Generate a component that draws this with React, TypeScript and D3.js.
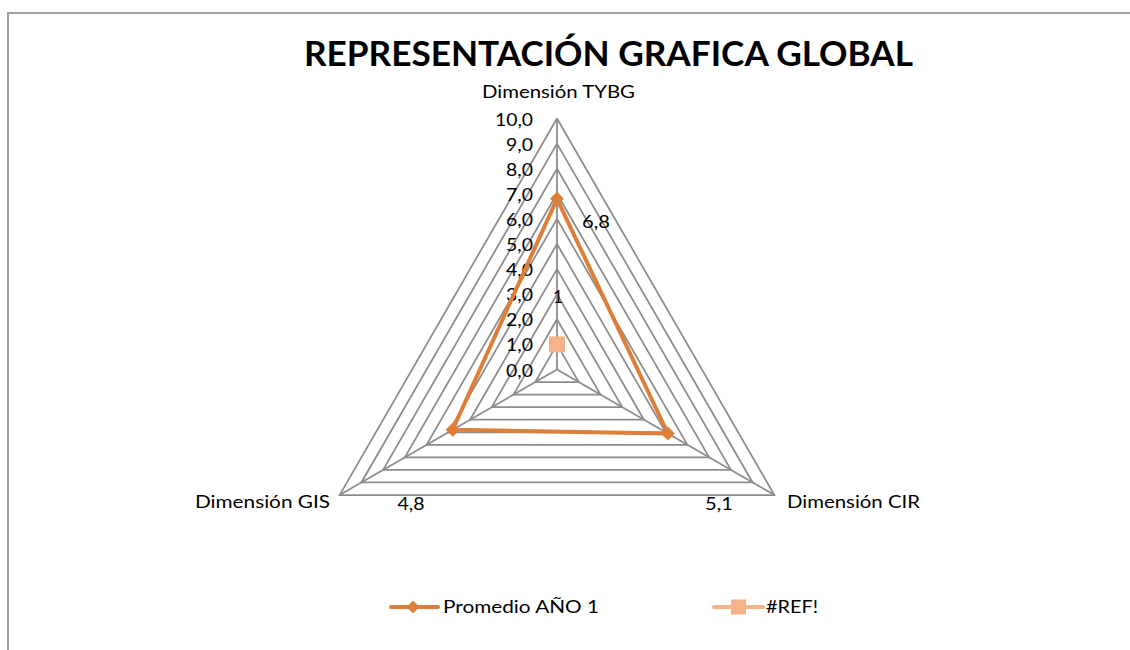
import React from "react";
import * as d3 from "d3";

const categories = ["Dimensión TYBG", "Dimensión CIR", "Dimensión GIS"];
const promedio = [6.8, 5.1, 4.8];
const refValues = [1, null, null];
const ticks = [0, 1, 2, 3, 4, 5, 6, 7, 8, 9, 10];
const seriesNames = ["Promedio AÑO 1", "#REF!"];

const W = 1130, H = 650;
const cx = 557, cy = 369.5, R = 251;
const ORANGE = "#DD7F38";
const LIGHT = "#F5B38A";
const GRID = "#8C8C8C";
const FONT = "Lato, 'Open Sans', sans-serif";

const fmt = (v: number) => d3.format(".1f")(v).replace(".", ",");

export default function App() {
  const r = d3.scaleLinear().domain([0, 10]).range([0, R]);
  const angle = (i: number) => (i * 2 * Math.PI) / categories.length;
  const pt = (i: number, v: number): [number, number] => [
    cx + r(v) * Math.sin(angle(i)),
    cy - r(v) * Math.cos(angle(i)),
  ];
  const ring = (v: number) =>
    d3.line()(categories.map((_, i) => pt(i, v)).concat([pt(0, v)]) as [number, number][]) || "";

  const promPath =
    d3.line()(promedio.map((v, i) => pt(i, v)).concat([pt(0, promedio[0])])) || "";

  const diamond = (x: number, y: number, s = 7) =>
    `M${x},${y - s}L${x + s},${y}L${x},${y + s}L${x - s},${y}Z`;

  const outer = categories.map((_, i) => pt(i, 10));
  const txt = { fontFamily: FONT, fontSize: 17, fill: "#000" } as const;

  return (
    <svg width={W} height={H} style={{ position: "absolute", left: 0, top: 0 }}>
      <rect x={0} y={0} width={W} height={H} fill="#fff" />
      <path d={`M8,${H + 5}L8,13L${W + 5},13`} fill="none" stroke="#A0A0A0" strokeWidth={2} />
      <text x={304} y={66} textAnchor="start" fontFamily={FONT} fontWeight={700} fontSize={34} textLength={609} lengthAdjust="spacingAndGlyphs" fill="#000">
        REPRESENTACIÓN GRAFICA GLOBAL
      </text>
      {ticks.slice(1).map((t) => (
        <path key={t} d={ring(t)} fill="none" stroke={GRID} strokeWidth={1.75} />
      ))}
      {categories.map((_, i) => {
        const [x, y] = pt(i, 10);
        return <line key={i} x1={cx} y1={cy} x2={x} y2={y} stroke={GRID} strokeWidth={1.75} />;
      })}
      {ticks.map((t) => (
        <text key={t} x={533} y={cy - r(t) + 7} textAnchor="end" {...txt} textLength={t >= 10 ? 38 : 27} lengthAdjust="spacingAndGlyphs">
          {fmt(t)}
        </text>
      ))}
      <text x={482} y={98} textAnchor="start" {...txt} textLength={153} lengthAdjust="spacingAndGlyphs">
        {categories[0]}
      </text>
      <text x={787} y={508} textAnchor="start" {...txt} textLength={133} lengthAdjust="spacingAndGlyphs">
        {categories[1]}
      </text>
      <text x={195} y={508} textAnchor="start" {...txt} textLength={135} lengthAdjust="spacingAndGlyphs">
        {categories[2]}
      </text>
      <path d={promPath} fill="none" stroke={ORANGE} strokeWidth={4} strokeLinejoin="round" />
      {promedio.map((v, i) => {
        const [x, y] = pt(i, v);
        return <path key={i} d={diamond(x, y)} fill={ORANGE} />;
      })}
      {refValues.map((v, i) => {
        if (v == null) return null;
        const [x, y] = pt(i, v);
        return <rect key={i} x={x - 8} y={y - 8} width={16} height={16} fill={LIGHT} />;
      })}
      {/* data labels */}
      <text x={596} y={228} textAnchor="middle" {...txt} textLength={28} lengthAdjust="spacingAndGlyphs">
        {fmt(promedio[0])}
      </text>
      <text x={719} y={510} textAnchor="middle" {...txt} textLength={28} lengthAdjust="spacingAndGlyphs">
        {fmt(promedio[1])}
      </text>
      <text x={411} y={510} textAnchor="middle" {...txt} textLength={27} lengthAdjust="spacingAndGlyphs">
        {fmt(promedio[2])}
      </text>
      <text x={558} y={303} textAnchor="middle" {...txt}>
        {String(refValues[0])}
      </text>
      {/* legend */}
      <line x1={391} y1={607} x2={438} y2={607} stroke={ORANGE} strokeWidth={4} strokeLinecap="round" />
      <path d={diamond(413, 607, 6.5)} fill={ORANGE} />
      <text x={443} y={613} {...txt} textLength={156} lengthAdjust="spacingAndGlyphs">{seriesNames[0]}</text>
      <line x1={714} y1={607} x2={763} y2={607} stroke={LIGHT} strokeWidth={4} strokeLinecap="round" />
      <rect x={731} y={599.5} width={15} height={15} fill={LIGHT} />
      <text x={766} y={613} {...txt} textLength={52} lengthAdjust="spacingAndGlyphs">{seriesNames[1]}</text>
    </svg>
  );
}
